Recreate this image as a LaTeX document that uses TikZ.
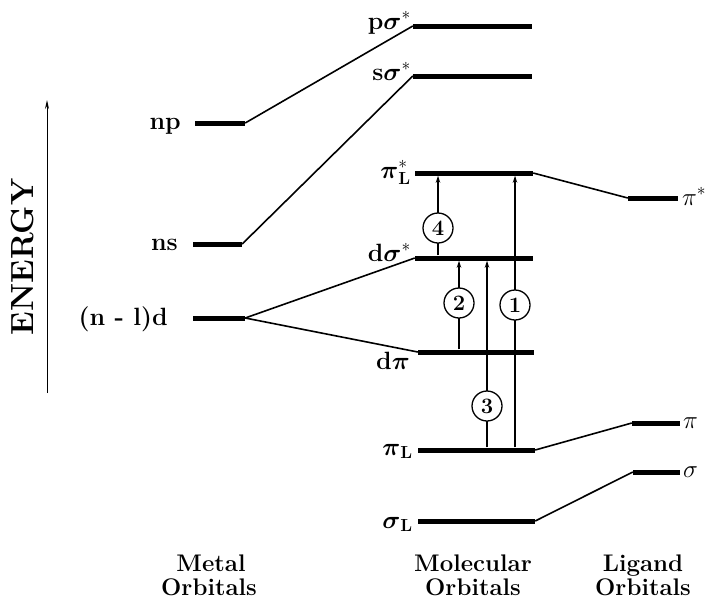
\RequirePackage{fix-cm}
\documentclass[tikz,border=0pt]{standalone}
\usepackage{amsmath,amssymb}
\usepackage{fontspec}
\setmainfont{Latin Modern Roman}
\usetikzlibrary{arrows.meta}
\begin{document}
\begin{tikzpicture}[x=1pt,y=-1pt,
  bar/.style={fill=black, inner sep=0pt, minimum height=5pt},
  conn/.style={line width=1.6pt},
  trans/.style={line width=1.2pt, -{Stealth[length=7pt,width=4.5pt]}},
  num/.style={circle, draw, fill=white, line width=1.3pt, minimum size=30pt, inner sep=0pt, font=\fontsize{22}{22}\selectfont\bfseries},
  lab/.style={font=\fontsize{25}{25}\selectfont\bfseries, inner sep=0pt, anchor=base east},
  glab/.style={font=\fontsize{25}{25}\selectfont, inner sep=0pt, anchor=base west},
  foot/.style={anchor=base, inner sep=0pt, font=\fontsize{24}{24}\selectfont\bfseries}
]
\useasboundingbox (0,0) rectangle (708,600);

% metal orbitals
\node[bar,minimum width=50pt] (np) at (220,123) {};
\node[bar,minimum width=49pt] (ns) at (217.5,244) {};
\node[bar,minimum width=52pt] (nd) at (219,318) {};
% molecular orbitals
\node[bar,minimum width=119pt] (ps) at (472.5,26) {};
\node[bar,minimum width=119pt] (ss) at (472.5,76) {};
\node[bar,minimum width=118pt] (pls) at (474,173) {};
\node[bar,minimum width=118pt] (ds) at (474,258) {};
\node[bar,minimum width=116pt] (dp) at (476,352) {};
\node[bar,minimum width=117pt] (pl) at (476.5,450) {};
\node[bar,minimum width=117pt] (sl) at (476.5,521) {};
% ligand orbitals
\node[bar,minimum width=50pt] (lps) at (653,198) {};
\node[bar,minimum width=48pt] (lp) at (656,423) {};
\node[bar,minimum width=47pt] (ls) at (656.5,472) {};

% correlation lines
\draw[conn] (np.east) -- (ps.west);
\draw[conn] (ns.east) -- (ss.west);
\draw[conn] (nd.east) -- (ds.west);
\draw[conn] (nd.east) -- (dp.west);
\draw[conn] (pls.east) -- (lps.west);
\draw[conn] (pl.east) -- (lp.west);
\draw[conn] (sl.east) -- (ls.west);

% transitions
\coordinate (x4) at (438,0);
\coordinate (x2) at (459,0);
\coordinate (x3) at (487,0);
\coordinate (x1) at (515,0);
\draw[trans] (ds.north -| x4) -- (pls.south -| x4);
\draw[trans] (dp.north -| x2) -- (ds.south -| x2);
\draw[trans] (pl.north -| x3) -- (ds.south -| x3);
\draw[trans] (pl.north -| x1) -- (pls.south -| x1);
\node[num] (c4) at (438,228) {4};
\node[num] (c2) at (459,303) {2};
\node[num] (c3) at (487,406) {3};
\node[num] (c1) at (515,305) {1};

% labels metal
\node[lab] (lnp) at (181,129) {np};
\node[lab] (lns) at (178,250) {ns};
\node[lab] (lnd) at (168,325) {(n - l)d};
% labels MO
\node[lab] (lps2) at (411,29) {p$\boldsymbol{\sigma}^{*}$};
\node[lab] (lss) at (411,80) {s$\boldsymbol{\sigma}^{*}$};
\node[lab] (lpls) at (411,178) {$\boldsymbol{\pi}^{*}_{\mathbf{L}}$};
\node[lab] (lds) at (411,261) {d$\boldsymbol{\sigma}^{*}$};
\node[lab] (ldp) at (410,369) {d$\boldsymbol{\pi}$};
\node[lab] (lpl) at (413,455) {$\boldsymbol{\pi}_{\mathbf{L}}$};
\node[lab] (lsl) at (413,528) {$\boldsymbol{\sigma}_{\mathbf{L}}$};
% labels ligand
\node[glab] (llps) at (682,205) {$\pi^{*}$};
\node[glab] (llp) at (683,428) {$\pi$};
\node[glab] (lls) at (683,477) {$\sigma$};

% energy axis
\coordinate (eb) at (47,393);
\coordinate (et) at (47,100);
\draw[line width=1pt,-{Stealth[length=9pt,width=4pt]}] (eb) -- (et);
\node[rotate=90, font=\fontsize{32}{32}\selectfont\bfseries] (energy) at (23,257) {ENERGY};

% footers
\node[foot] (fm1) at (211,571) {Metal};
\node[foot] (fm2) at (209,595) {Orbitals};
\node[foot] (fmo1) at (473,571) {Molecular};
\node[foot] (fmo2) at (473,595) {Orbitals};
\node[foot] (fl1) at (643,571) {Ligand};
\node[foot] (fl2) at (643,595) {Orbitals};
\end{tikzpicture}
\end{document}
